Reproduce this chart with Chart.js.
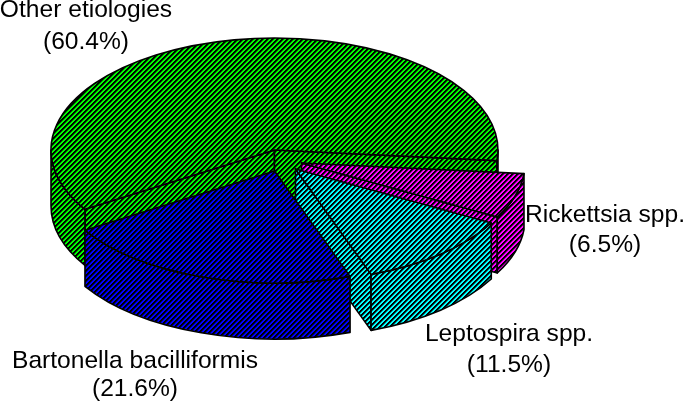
<!DOCTYPE html>
<html>
<head>
<meta charset="utf-8">
<style>html,body{margin:0;padding:0;background:#fff}canvas{display:block}</style>
<script src="https://cdn.jsdelivr.net/npm/chart.js@4"></script>
</head>
<body>
<canvas id="c" width="685" height="403"></canvas>
<script>
const categories = ['Other etiologies', 'Rickettsia spp.', 'Leptospira spp.', 'Bartonella bacilliformis'];
const shares = [60.4, 6.5, 11.5, 21.6];

const fills = ['#00ff00', '#ff00ff', '#00ffff', '#0000ff'];
const view = {cx: 274.5, cy: 150, rx: 223.5, ry: 112, depth: 56};
const shifts = [[0, 0], [27, 13], [21, 19], [0, 21]];
const labelAnchors = [[86, 17, 49], [605, 222, 252], [509, 341, 372], [135, 368, 396]];

function hatch(color) {
  const s = 5, t = document.createElement('canvas');
  t.width = t.height = s;
  const g = t.getContext('2d');
  g.fillStyle = color; g.fillRect(0, 0, s, s);
  for (let y = 0; y < s; y++) for (let x = 0; x < s; x++) {
    const k = (x + y) % s;
    if (k < 3) {
      g.fillStyle = k === 2 ? 'rgba(0,0,0,0.6)' : '#000';
      g.fillRect(x, y, 1, 1);
    }
  }
  return g.createPattern(t, 'repeat');
}
const patterns = fills.map(hatch);

const pie3d = {
  id: 'pie3d',
  beforeDatasetsDraw(chart) {
    const ctx = chart.ctx, arcs = chart.getDatasetMeta(0).data;
    ctx.lineJoin = 'round';
    ctx.strokeStyle = '#000';
    ctx.lineWidth = 1.6;
    arcs.forEach((el, i) => {
      const a0 = el.startAngle, a1 = el.endAngle;
      const ox = view.cx + shifts[i][0], oy = view.cy + shifts[i][1];
      const px = a => ox + view.rx * Math.cos(a), py = a => oy + view.ry * Math.sin(a);
      ctx.fillStyle = patterns[i];
      const face = a => {
        ctx.beginPath();
        ctx.moveTo(ox, oy); ctx.lineTo(px(a), py(a));
        ctx.lineTo(px(a), py(a) + view.depth); ctx.lineTo(ox, oy + view.depth);
        ctx.closePath(); ctx.fill(); ctx.stroke();
      };
      if (-Math.cos(a0) > 0) face(a0);
      if (Math.cos(a1) > 0) face(a1);
      for (const [b0, b1] of [[a0, a1], [a0 - 2 * Math.PI, a1 - 2 * Math.PI]]) {
        const s = Math.max(b0, 0), e = Math.min(b1, Math.PI);
        if (e <= s) continue;
        ctx.beginPath();
        ctx.ellipse(ox, oy, view.rx, view.ry, 0, s, e);
        ctx.ellipse(ox, oy + view.depth, view.rx, view.ry, 0, e, s, true);
        ctx.closePath(); ctx.fill(); ctx.stroke();
      }
      ctx.save();
      ctx.translate(ox, oy);
      ctx.scale(view.rx / el.outerRadius, view.ry / el.outerRadius);
      ctx.translate(-el.x, -el.y);
      patterns[i].setTransform(ctx.getTransform().inverse());
      el.draw(ctx);
      patterns[i].setTransform(new DOMMatrix());
      ctx.restore();
      ctx.beginPath();
      ctx.moveTo(ox, oy);
      ctx.ellipse(ox, oy, view.rx, view.ry, 0, a0, a1);
      ctx.closePath(); ctx.stroke();
    });
    ctx.fillStyle = '#000';
    ctx.font = '24.6px "Liberation Sans"';
    ctx.textAlign = 'center';
    ctx.textBaseline = 'alphabetic';
    categories.forEach((name, i) => {
      const [x, y1, y2] = labelAnchors[i];
      ctx.fillText(name, x, y1);
      ctx.fillText('(' + shares[i] + '%)', x, y2);
    });
    return false;
  }
};

new Chart(document.getElementById('c'), {
  type: 'pie',
  data: {labels: categories, datasets: [{data: shares, backgroundColor: patterns, borderWidth: 0}]},
  options: {
    responsive: false, animation: false, rotation: 238,
    layout: {padding: 0},
    plugins: {legend: {display: false}, tooltip: {enabled: false}}
  },
  plugins: [pie3d]
});
</script>
</body>
</html>
